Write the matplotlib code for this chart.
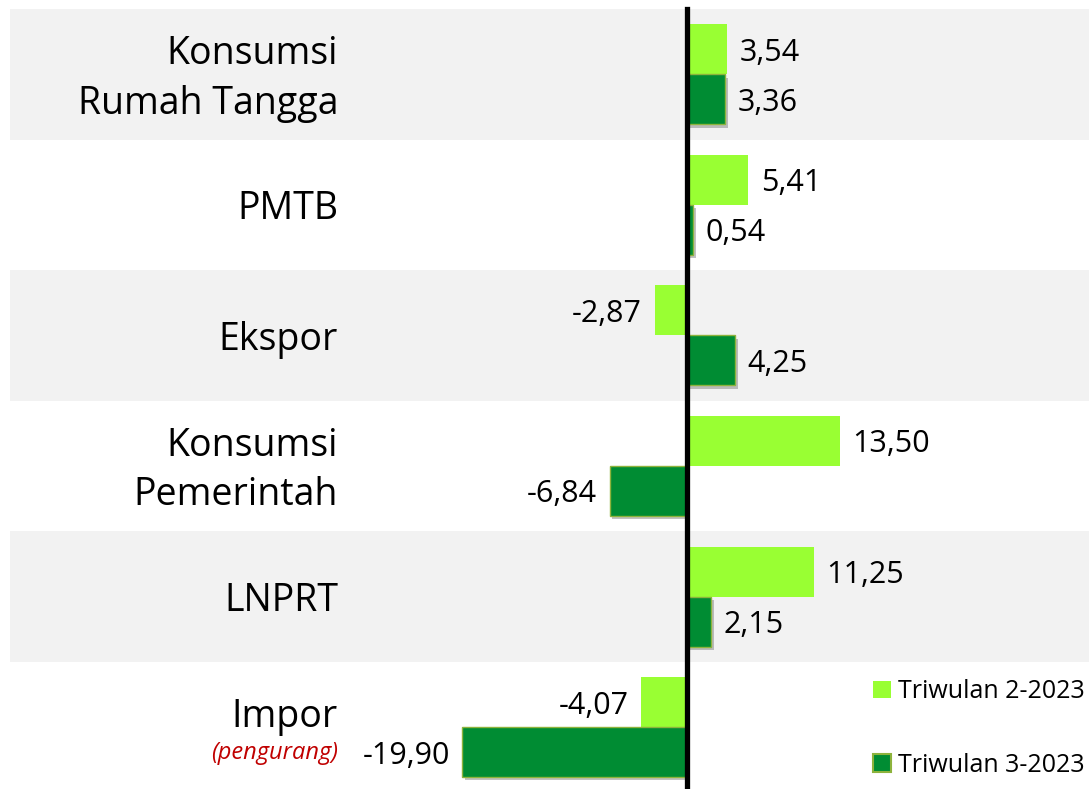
import matplotlib.pyplot as plt
from matplotlib import patheffects as pe
from matplotlib.transforms import blended_transform_factory
from matplotlib.patches import Patch

categories = ["Konsumsi\nRumah Tangga", "PMTB", "Ekspor", "Konsumsi\nPemerintah", "LNPRT", "Impor"]
q2 = [3.54, 5.41, -2.87, 13.50, 11.25, -4.07]
q3 = [3.36, 0.54, 4.25, -6.84, 2.15, -19.90]
series_names = ["Triwulan 2-2023", "Triwulan 3-2023"]
impor_note = "(pengurang)"

plt.rcParams['font.family'] = ['Open Sans', 'DejaVu Sans']

W, H = 1089, 789
fig = plt.figure(figsize=(W / 100, H / 100), dpi=100)
ax = fig.add_axes([0, 0, 1, 1])

px_per_unit = 11.3
x_zero = 687
row_h = 130.5
y_first = 74.5
ax.set_xlim(-x_zero / px_per_unit, (W - x_zero) / px_per_unit)
ax.set_ylim((H - y_first) / row_h, -y_first / row_h)
ax.axis('off')

light = '#99FF33'
dark = '#008C33'
edge = '#8DB33C'

ys = list(range(len(categories)))
for i in ys:
    if i % 2 == 0:
        ax.axhspan(i - 0.5, i + 0.5, xmin=10 / W, xmax=1, color='#F2F2F2', zorder=0, lw=0)

h = 50 / row_h
b2 = ax.barh([y - h / 2 for y in ys], q2, height=h, color=light, zorder=2, label=series_names[0])
b3 = ax.barh([y + h / 2 for y in ys], q3, height=h, color=dark, edgecolor=edge, linewidth=1.0,
             zorder=2, label=series_names[1])
for p in b3.patches:
    p.set_path_effects([pe.SimplePatchShadow(offset=(2, -2.5), shadow_rgbFace='#666666', alpha=0.4),
                        pe.Normal()])

ax.axvline(0, ymin=0, ymax=1 - 9 / H, color='black', lw=3.8, zorder=4)

def fmt(v):
    return f"{v:.2f}".replace('.', ',')

for vals, off in ((q2, -h / 2), (q3, h / 2)):
    for y, v in zip(ys, vals):
        if v >= 0:
            ax.annotate(fmt(v), xy=(v, y + off), xytext=(9, 0), textcoords='offset points',
                        ha='left', va='center_baseline', fontsize=22, color='black', zorder=5)
        else:
            ax.annotate(fmt(v), xy=(v, y + off), xytext=(-9, 0), textcoords='offset points',
                        ha='right', va='center_baseline', fontsize=22, color='black', zorder=5)

tr = blended_transform_factory(ax.transAxes, ax.transData)
lx = 338 / W
for y, cat in zip(ys, categories):
    lines = cat.split('\n')
    if cat == "Impor":
        ax.text(lx, y - 14 / row_h, cat, transform=tr, ha='right', va='center_baseline', fontsize=27)
        ax.text(lx, y + 23 / row_h, impor_note, transform=tr, ha='right', va='center_baseline',
                fontsize=17, style='italic', color='#C00000')
    elif len(lines) == 2:
        ax.text(lx, y - 25 / row_h, lines[0], transform=tr, ha='right', va='center_baseline', fontsize=27)
        ax.text(lx, y + 25 / row_h, lines[1], transform=tr, ha='right', va='center_baseline', fontsize=27)
    else:
        ax.text(lx, y, cat, transform=tr, ha='right', va='center_baseline', fontsize=27)

handles = [Patch(facecolor=light, edgecolor='none'), Patch(facecolor=dark, edgecolor=edge, lw=1.5)]
fig.legend(handles, series_names, loc='upper left', bbox_to_anchor=(873 / W, 1 - 679 / H),
           frameon=False, fontsize=18, handlelength=0.7, handleheight=0.7,
           handletextpad=0.3, labelspacing=1.95, borderpad=0, borderaxespad=0)

fig.savefig('out.png', dpi=100)
